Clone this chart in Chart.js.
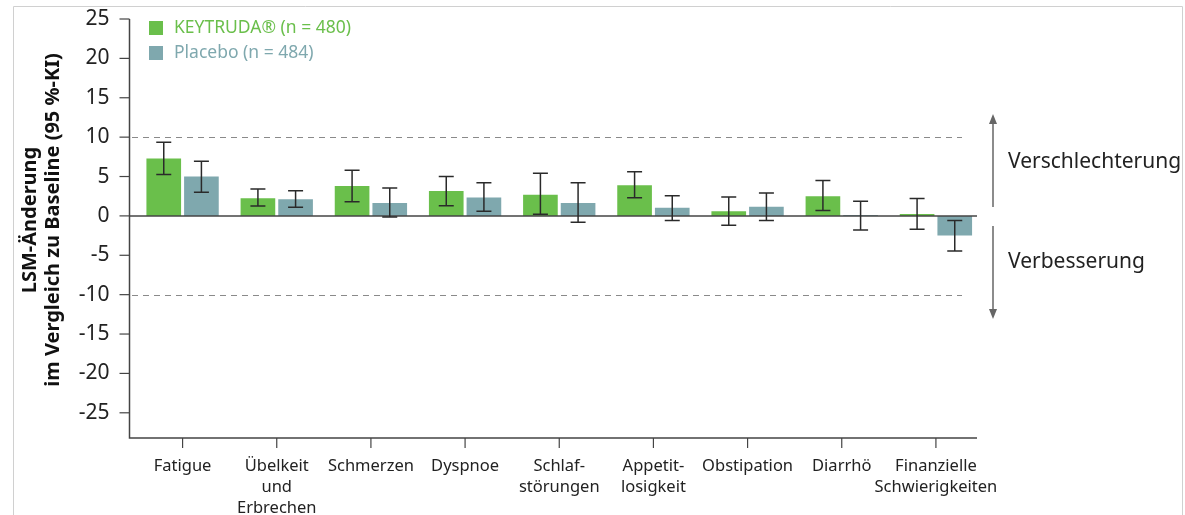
<!DOCTYPE html>
<html lang="de">

<head>
    <meta charset="UTF-8">
    <script src="https://cdn.jsdelivr.net/npm/chart.js"></script>
    <title>LSM-Änderung</title>
    <style>
        html, body { margin: 0; padding: 0; background: #fff; }
        #wrap { width: 1185px; height: 515px; }
    </style>
</head>

<body>
    <div id="wrap"><canvas id="myChart" width="1185" height="515"></canvas></div>
</body>
<script>
    // Daten
    const categories = [
        'Fatigue', ['Übelkeit', 'und', 'Erbrechen'], 'Schmerzen', 'Dyspnoe', ['Schlaf-', 'störungen'],
        ['Appetit-', 'losigkeit'], 'Obstipation', 'Diarrhö', ['Finanzielle', 'Schwierigkeiten']
    ];
    const keytrudaValues = [7.3, 2.25, 3.8, 3.15, 2.7, 3.9, 0.6, 2.5, 0.25];
    const keytrudaLower = [5.25, 1.25, 1.8, 1.3, 0.2, 2.3, -1.2, 0.7, -1.7];
    const keytrudaUpper = [9.35, 3.4, 5.8, 5.0, 5.4, 5.6, 2.4, 4.5, 2.2];
    const placeboValues = [5.0, 2.1, 1.65, 2.35, 1.65, 1.05, 1.15, 0.1, -2.5];
    const placeboLower = [3.0, 1.1, -0.15, 0.6, -0.8, -0.6, -0.6, -1.8, -4.45];
    const placeboUpper = [6.95, 3.2, 3.55, 4.2, 4.2, 2.55, 2.9, 1.85, -0.6];
    const yTickValues = [25, 20, 15, 10, 5, 0, -5, -10, -15, -20, -25];
    const refLines = [10, -10];

    const green = '#6abf4b';
    const grey = '#7fa8ae';
    const fontName = '"Noto Sans", sans-serif';

    const overlay = {
        id: 'overlay',
        beforeDraw(chart) {
            const c = chart.ctx;
            c.save();
            c.strokeStyle = '#d0d0d0';
            c.lineWidth = 1;
            c.beginPath();
            c.moveTo(13.5, 515); c.lineTo(13.5, 6.5); c.lineTo(1182.5, 6.5); c.lineTo(1182.5, 515);
            c.stroke();
            c.restore();
        },
        beforeDatasetsDraw(chart) {
            const c = chart.ctx, y = chart.scales.y;
            c.save();
            c.strokeStyle = '#8a8a8a';
            c.lineWidth = 1.2;
            c.setLineDash([6, 5]);
            refLines.forEach(v => {
                const py = Math.round(y.getPixelForValue(v)) + 0.5;
                c.beginPath(); c.moveTo(132, py); c.lineTo(962, py); c.stroke();
            });
            c.restore();
        },
        afterDatasetsDraw(chart) {
            const c = chart.ctx, x = chart.scales.x, y = chart.scales.y;
            const axX = 129.5, axRight = 977, bottom = chart.chartArea.bottom;
            c.save();
            // Achsen
            c.strokeStyle = '#444';
            c.lineWidth = 1.5;
            c.beginPath();
            c.moveTo(axX, y.getPixelForValue(25)); c.lineTo(axX, bottom); c.lineTo(axRight, bottom);
            c.stroke();
            const zy = y.getPixelForValue(0);
            c.beginPath(); c.moveTo(axX, zy); c.lineTo(axRight, zy); c.stroke();
            c.lineWidth = 1.2;
            yTickValues.forEach(v => {
                const py = y.getPixelForValue(v);
                c.beginPath(); c.moveTo(axX - 10, py); c.lineTo(axX, py); c.stroke();
            });
            categories.forEach((_, i) => {
                const px = x.getPixelForValue(i);
                c.beginPath(); c.moveTo(px, bottom); c.lineTo(px, bottom + 10); c.stroke();
            });

            // Fehlerbalken
            const errs = [[keytrudaLower, keytrudaUpper], [placeboLower, placeboUpper]];
            c.strokeStyle = '#2a2a2a';
            c.lineWidth = 1.5;
            errs.forEach((e, d) => {
                chart.getDatasetMeta(d).data.forEach((bar, i) => {
                    const lo = y.getPixelForValue(e[0][i]), hi = y.getPixelForValue(e[1][i]);
                    c.beginPath();
                    c.moveTo(bar.x, lo); c.lineTo(bar.x, hi);
                    c.moveTo(bar.x - 7.5, lo); c.lineTo(bar.x + 7.5, lo);
                    c.moveTo(bar.x - 7.5, hi); c.lineTo(bar.x + 7.5, hi);
                    c.stroke();
                });
            });

            // Pfeile
            c.strokeStyle = '#666';
            c.fillStyle = '#666';
            c.lineWidth = 1.5;
            const ax = 993;
            c.beginPath(); c.moveTo(ax, 122); c.lineTo(ax, 207); c.stroke();
            c.beginPath(); c.moveTo(ax, 226); c.lineTo(ax, 311); c.stroke();
            c.beginPath(); c.moveTo(ax, 114); c.lineTo(ax - 4, 124); c.lineTo(ax + 4, 124); c.closePath(); c.fill();
            c.beginPath(); c.moveTo(ax, 319); c.lineTo(ax - 4, 309); c.lineTo(ax + 4, 309); c.closePath(); c.fill();

            c.fillStyle = '#222';
            c.font = '21px ' + fontName;
            c.textAlign = 'left';
            c.textBaseline = 'middle';
            c.fillText('Verschlechterung', 1008, 162);
            c.fillText('Verbesserung', 1008, 262);

            // Legende
            c.font = '17.5px ' + fontName;
            c.fillStyle = green;
            c.fillRect(149, 21, 14, 14);
            c.fillText('KEYTRUDA® (n = 480)', 174, 28);
            c.fillStyle = grey;
            c.fillRect(149, 46, 14, 14);
            c.fillText('Placebo (n = 484)', 174, 53);

            // Achsentitel
            c.fillStyle = '#111';
            c.font = 'bold 20px ' + fontName;
            c.textAlign = 'center';
            c.translate(30, 220);
            c.rotate(-Math.PI / 2);
            c.fillText('LSM-Änderung', 0, 0);
            c.fillText('im Vergleich zu Baseline (95 %-KI)', 0, 23);
            c.restore();
        }
    };

    var ctx = document.getElementById('myChart').getContext('2d');
    var myChart = new Chart(ctx, {
        type: 'bar',
        data: {
            labels: categories,
            datasets: [{
                label: 'KEYTRUDA® (n = 480)',
                data: keytrudaValues,
                backgroundColor: green,
                categoryPercentage: 0.8,
                barPercentage: 0.92
            }, {
                label: 'Placebo (n = 484)',
                data: placeboValues,
                backgroundColor: grey,
                categoryPercentage: 0.8,
                barPercentage: 0.92
            }]
        },
        options: {
            responsive: false,
            animation: false,
            layout: { padding: { top: 19, right: 202, bottom: 0, left: 0 } },
            plugins: { legend: { display: false }, tooltip: { enabled: false } },
            scales: {
                x: {
                    grid: { display: false },
                    border: { display: false },
                    afterFit: s => {
                        s.height = 77;
                        s.paddingLeft = 0; s.paddingRight = 0; s.paddingTop = 0; s.paddingBottom = 0;
                    },
                    ticks: {
                        autoSkip: false,
                        maxRotation: 0,
                        padding: 10,
                        color: '#222',
                        font: { family: fontName, size: 16.5, lineHeight: 1.27 }
                    }
                },
                y: {
                    min: -28.2,
                    max: 25,
                    grid: { display: false },
                    border: { display: false },
                    afterFit: s => {
                        s.width = 135.5;
                        s.paddingLeft = 0; s.paddingRight = 0; s.paddingTop = 0; s.paddingBottom = 0;
                    },
                    afterBuildTicks: s => { s.ticks = yTickValues.map(v => ({ value: v })); },
                    ticks: {
                        padding: 18,
                        color: '#222',
                        font: { family: fontName, size: 21 }
                    }
                }
            }
        },
        plugins: [overlay]
    });
</script>

</html>
